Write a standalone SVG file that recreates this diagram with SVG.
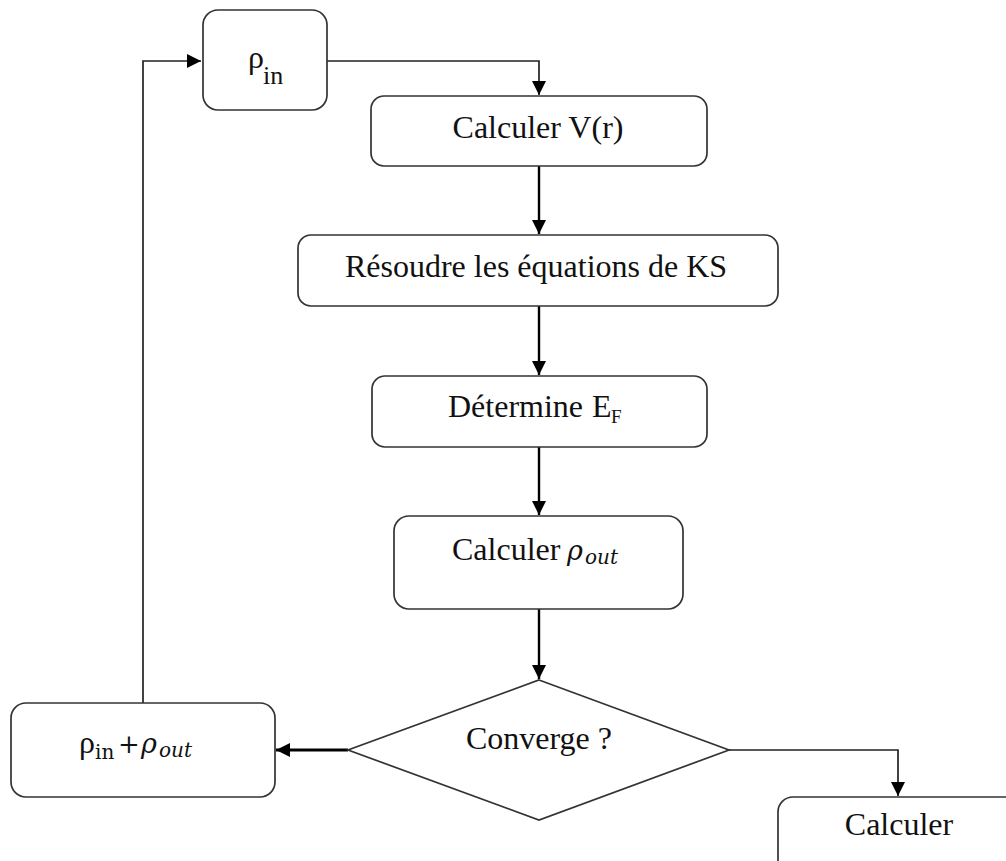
<svg xmlns="http://www.w3.org/2000/svg" width="1006" height="861" viewBox="0 0 1006 861">
<style>
.box{fill:#fff;stroke:#333;stroke-width:1.7}
.t{font-family:"Liberation Serif","Times New Roman",serif;font-size:32px;fill:#111}
.sub{font-family:"Liberation Serif","Times New Roman",serif;font-size:26px;fill:#111}
.s{font-family:"Liberation Serif","Times New Roman",serif;font-size:19px;fill:#111}
.m{font-family:"DejaVu Serif","Liberation Serif",serif;fill:#111}
.c{fill:none;stroke:#000;stroke-width:2.4}
.thin{fill:none;stroke:#222;stroke-width:1.7}
</style>
<defs>
<marker id="ah" markerUnits="userSpaceOnUse" markerWidth="14" markerHeight="14" refX="14" refY="7" orient="auto">
<path d="M0,0 L14,7 L0,14 z" fill="#000"/>
</marker>
</defs>
<rect width="1006" height="861" fill="#fff"/>
<g id="connectors">
<path class="thin" d="M143,703 V61 H201" marker-end="url(#ah)"/>
<path class="thin" d="M327,61 H539 V95" marker-end="url(#ah)"/>
<path class="c" d="M539,166 V234" marker-end="url(#ah)"/>
<path class="c" d="M539,306 V375" marker-end="url(#ah)"/>
<path class="c" d="M539,447 V515" marker-end="url(#ah)"/>
<path class="c" d="M539,609 V679" marker-end="url(#ah)"/>
<path class="c" d="M348,750 H276" style="stroke-width:3" marker-end="url(#ah)"/>
<path class="thin" d="M729,750 H898 V796" marker-end="url(#ah)"/>
</g>
<g id="rho-in">
<rect class="box" x="203" y="10" width="124" height="100" rx="15"/>
<text class="t" x="248" y="68">ρ</text>
<text class="sub" x="263" y="84">in</text>
</g>
<g id="calc-v">
<rect class="box" x="371" y="96" width="336" height="70" rx="13"/>
<text class="t" x="538" y="138" text-anchor="middle">Calculer V(r)</text>
</g>
<g id="ks">
<rect class="box" x="298" y="235" width="480" height="71" rx="13"/>
<text class="t" x="536" y="277" text-anchor="middle">Résoudre les équations de KS</text>
</g>
<g id="ef">
<rect class="box" x="372" y="376" width="335" height="71" rx="13"/>
<text class="t" x="448" y="417">Détermine</text>
<text class="t" x="592" y="417">E</text>
<text class="s" x="611" y="423">F</text>
</g>
<g id="rho-out">
<rect class="box" x="394" y="516" width="289" height="93" rx="15"/>
<text class="t" x="452" y="560">Calculer</text>
<text class="m" x="567" y="560" style="font-size:27px;font-style:italic">ρ</text>
<text class="m" x="585" y="564" style="font-size:20px;font-style:italic">out</text>
</g>
<g id="converge">
<polygon class="box" points="539,680 729,750 539,820 348,750"/>
<text class="t" x="539" y="749" text-anchor="middle">Converge ?</text>
</g>
<g id="mix">
<rect class="box" x="11" y="703" width="264" height="94" rx="15"/>
<text class="t" x="79" y="753">ρ</text>
<text class="m" x="95" y="759" style="font-size:20px">in</text>
<text class="m" x="118" y="753" style="font-size:26px">+</text>
<text class="m" x="141" y="753" style="font-size:27px;font-style:italic">ρ</text>
<text class="m" x="159" y="757" style="font-size:20px;font-style:italic">out</text>
</g>
<g id="calc-final">
<rect class="box" x="778" y="797" width="260" height="100" rx="15"/>
<text class="t" x="899" y="835" text-anchor="middle">Calculer</text>
</g>
</svg>
